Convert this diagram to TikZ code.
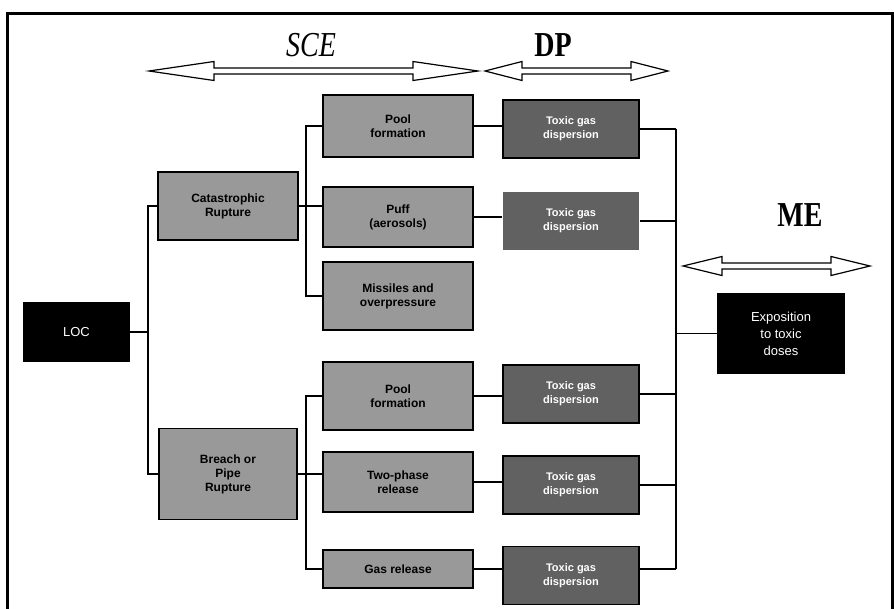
\documentclass[tikz,border=0pt]{standalone}
\usepackage{fontspec}
\setmainfont{Liberation Serif}
\setsansfont{Liberation Sans}
\usetikzlibrary{calc}
\tikzset{
  scebox/.style={draw, line width=1.5pt, fill=black!40, align=center, inner sep=2pt,
    font=\sffamily\bfseries\fontsize{12}{14}\selectfont, minimum width=150pt},
  dpbox/.style={draw, line width=1.5pt, fill=black!62, text=white, align=center, inner sep=2pt,
    font=\sffamily\bfseries\fontsize{11}{14}\selectfont, minimum width=136pt, minimum height=58pt},
  blkbox/.style={fill=black, text=white, align=center, inner sep=2pt,
    font=\sffamily\fontsize{13}{17}\selectfont},
  link/.style={line width=1.5pt},
  buslink/.style={line width=2.2pt},
  hdarrow/.style={line width=1.2pt, fill=white},
  phase/.style={font=\fontsize{35}{35}\selectfont}
}
\begin{document}
\begin{tikzpicture}[x=1pt, y=-1pt]
                \useasboundingbox (0,0) rectangle (894,608);
                \draw[line width=3pt] (7,620) -- (7,13) -- (892,13) -- (892,620);

                \node[phase] (sce) at (311,45) {\scalebox{0.8}[1]{\itshape SCE}};
                \node[phase] (dp) at (553,45) {\scalebox{0.8}[1]{\bfseries DP}};
                \node[phase] (me) at (800,215) {\scalebox{0.8}[1]{\bfseries ME}};

                \foreach \xa/\xb/\y/\l in {149/478/71/65, 485/668/71/37, 683/870/266/39}
                  \draw[hdarrow] (\xa,\y) -- ({\xa+\l},{\y-9.5}) -- ({\xa+\l},{\y-3})
                    -- ({\xb-\l},{\y-3}) -- ({\xb-\l},{\y-9.5}) -- (\xb,\y)
                    -- ({\xb-\l},{\y+9.5}) -- ({\xb-\l},{\y+3}) -- ({\xa+\l},{\y+3})
                    -- ({\xa+\l},{\y+9.5}) -- cycle;

                \node[blkbox, minimum width=107pt, minimum height=60pt] (loc) at (76.5,332) {LOC};

                \node[scebox, minimum width=140pt, minimum height=68pt] (cat) at (228,206) {Catastrophic\\Rupture};
                \node[scebox, minimum width=138pt, minimum height=91pt] (breach) at (228,474) {Breach or\\Pipe\\Rupture};

                \node[scebox, minimum height=62pt] (pool1) at (398,126) {Pool\\formation};
                \node[scebox, minimum height=60pt] (puff) at (398,217) {Puff\\(aerosols)};
                \node[scebox, minimum height=68pt] (miss) at (398,296) {Missiles and\\overpressure};
                \node[scebox, minimum height=68pt] (pool2) at (398,396) {Pool\\formation};
                \node[scebox, minimum height=60pt] (two) at (398,482) {Two-phase\\release};
                \node[scebox, minimum height=38pt] (gas) at (398,569) {Gas release};

                \node[dpbox] (tox1) at (571,129) {Toxic gas\\dispersion};
                \node[dpbox, draw=none] (tox2) at (571,221) {Toxic gas\\dispersion};
                \node[dpbox] (tox3) at (571,394) {Toxic gas\\dispersion};
                \node[dpbox] (tox4) at (571,485) {Toxic gas\\dispersion};
                \node[dpbox] (tox5) at (571,575.5) {Toxic gas\\dispersion};

                \node[blkbox, minimum width=128pt, minimum height=81pt] (expo) at (781,333.5) {Exposition\\to toxic\\doses};

                \coordinate (busa) at ($(cat.west)+(-9,0)$);
                \draw[buslink] (cat.west) -- (busa) |- (breach.west);
                \draw[buslink] (loc.east) -- (loc.east -| busa);

                \coordinate (busb) at ($(pool1.west)+(-16,0)$);
                \draw[buslink] (pool1.west) -- (busb) |- (miss.west);
                \draw[link] (cat.east) -- (cat.east -| puff.west);

                \coordinate (busc) at ($(pool2.west)+(-16,0)$);
                \draw[buslink] (pool2.west) -- (busc) |- (gas.west);
                \draw[link] (breach.east) -- (breach.east -| two.west);

                \foreach \a/\b in {pool1/tox1, puff/tox2, pool2/tox3, two/tox4, gas/tox5}
                  \draw[link] (\a.east) -- (\a.east -| \b.west);

                \coordinate (busd) at ($(tox1.east)+(36,0)$);
                \foreach \b in {tox1, tox2, tox3, tox4}
                  \draw[link] (\b.east) -- (\b.east -| busd);
                \draw[link] (gas.east -| tox5.east) -- (gas.east -| busd);
                \draw[link] (tox1.east -| busd) -- (gas.east -| busd);
                \draw[link] (expo.west) -- (expo.west -| busd);
            \end{tikzpicture}
\end{document}
